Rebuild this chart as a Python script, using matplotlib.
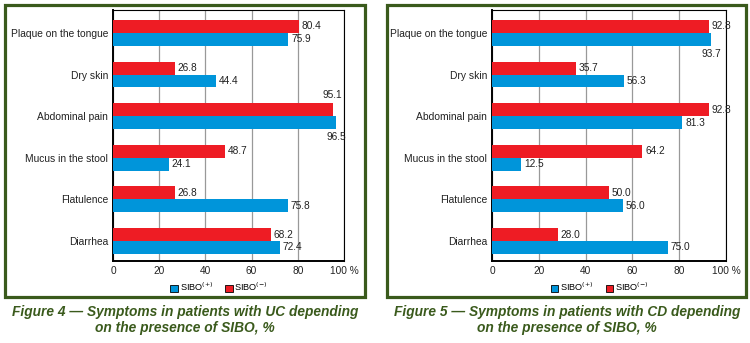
import matplotlib.pyplot as plt
from matplotlib.patches import Patch, Rectangle

plt.rcParams['font.family'] = ['Liberation Sans', 'DejaVu Sans']

# datos
sintomas = ['Plaque on the tongue', 'Dry skin', 'Abdominal pain',
            'Mucus in the stool', 'Flatulence', 'Diarrhea']
uc_pos = [75.9, 44.4, 96.5, 24.1, 75.8, 72.4]
uc_neg = [80.4, 26.8, 95.1, 48.7, 26.8, 68.2]
cd_pos = [93.7, 56.3, 81.3, 12.5, 56.0, 75.0]
cd_neg = [92.8, 35.7, 92.8, 64.2, 50.0, 28.0]
x_ticks = [0, 20, 40, 60, 80, 100]
x_labels = ['0', '20', '40', '60', '80', '100 %']
leyenda = ['SIBO$^{(+)}$', 'SIBO$^{(-)}$']
titulos = ['Figure 4 \u2014 Symptoms in patients with UC depending\non the presence of SIBO, %',
           'Figure 5 \u2014 Symptoms in patients with CD depending\non the presence of SIBO, %']

AZUL = '#0095da'
ROJO = '#ee1c24'
VERDE = '#3a5a1c'
W, H = 750, 343

fig = plt.figure(figsize=(W / 100, H / 100), dpi=100)


def px_box(x0, y0, x1, y1):
    # caja en pixeles (origen arriba a la izquierda) -> fraccion de figura
    return [x0 / W, 1 - y1 / H, (x1 - x0) / W, (y1 - y0) / H]


def panel(rect, pos, neg):
    ax = fig.add_axes(px_box(*rect))
    y = [5 - i for i in range(len(sintomas))]
    h = 0.31
    yr = [v + h / 2 for v in y]
    yb = [v - h / 2 for v in y]
    ax.barh(yr, neg, height=h, color=ROJO, zorder=3)
    ax.barh(yb, pos, height=h, color=AZUL, zorder=3)

    # etiquetas de valores
    for yy, v, arriba in [(a, b, True) for a, b in zip(yr, neg)] + \
                          [(a, b, False) for a, b in zip(yb, pos)]:
        txt = f'{v:.1f}'
        if v > 93:
            ax.annotate(txt, (v, yy + (h / 2 if arriba else -h / 2)),
                        xytext=(0, 2 if arriba else -2), textcoords='offset points',
                        ha='center', va='bottom' if arriba else 'top',
                        fontsize=7.3, color='#222222')
        else:
            ax.annotate(txt, (v, yy), xytext=(2, 0), textcoords='offset points',
                        ha='left', va='center', fontsize=7.3, color='#222222')

    ax.set_xlim(0, 100)
    ax.set_ylim(-0.48, 5.55)
    ax.set_yticks(y)
    ax.set_yticklabels(sintomas, fontsize=7.4)
    ax.set_xticks(x_ticks)
    ax.set_xticklabels(x_labels, fontsize=7.3)
    ax.tick_params(length=0, pad=3.5, colors='#222222')
    ax.grid(True, axis='x', color='#999999', linewidth=0.9, zorder=0)
    ax.spines['left'].set_linewidth(1.4)
    ax.spines['bottom'].set_linewidth(1.4)
    ax.spines['top'].set_linewidth(0.8)
    ax.spines['right'].set_linewidth(0.8)

    handles = [Patch(facecolor=AZUL, edgecolor='black', linewidth=0.6),
               Patch(facecolor=ROJO, edgecolor='black', linewidth=0.6)]
    ax.legend(handles, leyenda, loc='center', bbox_to_anchor=(0.46, -0.104),
              ncol=2, frameon=False, fontsize=6.6, handlelength=0.8, handleheight=0.8,
              handletextpad=0.2, columnspacing=1.3, borderpad=0)
    return ax


panel((113, 10, 344, 261), uc_pos, uc_neg)
panel((492, 10, 726, 261), cd_pos, cd_neg)

# marcos verdes
for x0, x1 in [(4.5, 364.5), (386.5, 745.5)]:
    fig.patches.append(Rectangle((x0 / W, 1 - 296.5 / H), (x1 - x0) / W, 292 / H,
                                 transform=fig.transFigure, fill=False,
                                 edgecolor=VERDE, linewidth=2.3))

fig.text(185 / W, 1 - 320 / H, titulos[0], ha='center', va='center', fontsize=9.9,
         fontweight='bold', fontstyle='italic', color=VERDE, linespacing=1.1)
fig.text(567 / W, 1 - 320 / H, titulos[1], ha='center', va='center', fontsize=9.9,
         fontweight='bold', fontstyle='italic', color=VERDE, linespacing=1.1)

fig.savefig('out.png', dpi=100)
